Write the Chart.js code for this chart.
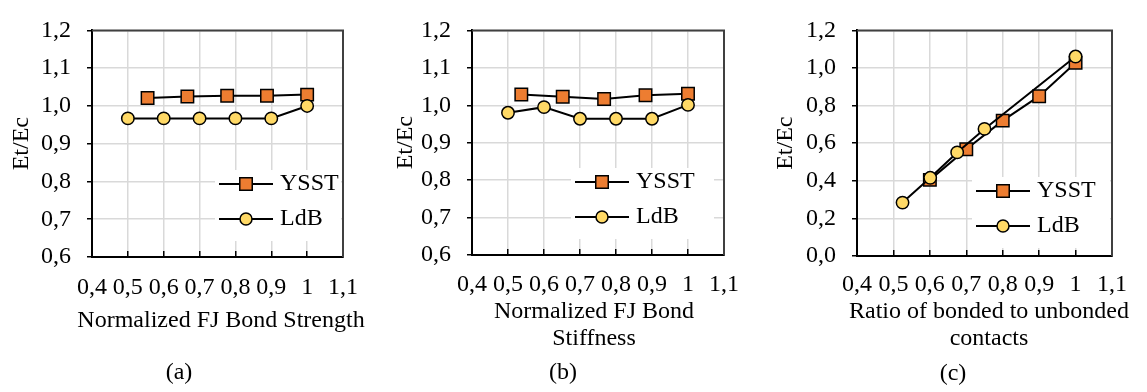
<!DOCTYPE html>
<html>
<head>
<meta charset="utf-8">
<script src="https://cdn.jsdelivr.net/npm/chart.js@4/dist/chart.umd.min.js"></script>
<style>
  html, body { margin: 0; padding: 0; background: #fff; }
  #figure { position: relative; width: 1147px; height: 392px; }
  #figure canvas { position: absolute; top: 0; }
</style>
</head>
<body>
<div id="figure">
  <canvas id="chartA" width="380" height="392" style="left:0px"></canvas>
  <canvas id="chartB" width="380" height="392" style="left:380px"></canvas>
  <canvas id="chartC" width="387" height="392" style="left:760px"></canvas>
</div>
<script>
// axis ticks (shared x axis, two kinds of y axis)
const xTickValues = [0.4, 0.5, 0.6, 0.7, 0.8, 0.9, 1.0, 1.1];
const xTickLabels = ['0,4', '0,5', '0,6', '0,7', '0,8', '0,9', '1', '1,1'];
const yTickValuesAB = [0.6, 0.7, 0.8, 0.9, 1.0, 1.1, 1.2];
const yTickLabelsAB = ['0,6', '0,7', '0,8', '0,9', '1,0', '1,1', '1,2'];
const yTickValuesC = [0, 0.2, 0.4, 0.6, 0.8, 1.0, 1.2];
const yTickLabelsC = ['0,0', '0,2', '0,4', '0,6', '0,8', '1,0', '1,2'];

// (a) normalized FJ bond strength
const strengthYsstX = [0.555, 0.666, 0.777, 0.888, 1.0];
const strengthYsstY = [1.021, 1.025, 1.027, 1.027, 1.030];
const strengthLdbX = [0.5, 0.6, 0.7, 0.8, 0.9, 1.0];
const strengthLdbY = [0.967, 0.967, 0.967, 0.967, 0.967, 1.0];

// (b) normalized FJ bond stiffness
const stiffnessYsstX = [0.537, 0.652, 0.767, 0.882, 1.0];
const stiffnessYsstY = [1.029, 1.023, 1.017, 1.027, 1.031];
const stiffnessLdbX = [0.5, 0.6, 0.7, 0.8, 0.9, 1.0];
const stiffnessLdbY = [0.980, 0.995, 0.964, 0.964, 0.964, 1.001];

// (c) ratio of bonded to unbonded contacts
const ratioYsstX = [0.6, 0.7, 0.8, 0.9, 1.0];
const ratioYsstY = [0.405, 0.568, 0.720, 0.850, 1.028];
const ratioLdbX = [0.525, 0.601, 0.675, 0.750, 1.0];
const ratioLdbY = [0.284, 0.416, 0.551, 0.676, 1.061];

const ORANGE = '#ED7D31';
const GOLD = '#FFD966';
const GRID = '#d9d9d9';
const FONT = '"Liberation Serif", "Times New Roman", serif';

Chart.defaults.font.family = FONT;
Chart.defaults.font.size = 24;
Chart.defaults.color = '#000';

// little line+marker picture used as the legend symbol (Excel style)
function legendSymbol(shape, fill) {
    const c = document.createElement('canvas');
    c.width = 54;
    c.height = 18;
    const g = c.getContext('2d');
    g.strokeStyle = '#000';
    g.lineWidth = 2;
    g.beginPath();
    g.moveTo(0, 9);
    g.lineTo(54, 9);
    g.stroke();
    g.fillStyle = fill;
    g.lineWidth = 1.5;
    g.beginPath();
    if (shape === 'rect') {
        g.rect(27 - 6.25, 9 - 6.25, 12.5, 12.5);
    } else {
        g.arc(27, 9, 6, 0, Math.PI * 2);
    }
    g.fill();
    g.stroke();
    return c;
}

const symbols = {
    rect: legendSymbol('rect', ORANGE),
    circle: legendSymbol('circle', GOLD)
};

function series(label, xs, ys, shape, fill, order) {
    return {
        label: label,
        order: order,
        data: xs.map((x, i) => ({ x: x, y: ys[i] })),
        borderColor: '#000',
        borderWidth: 2,
        pointStyle: shape,
        pointRadius: shape === 'rect' ? 8.8 : 6.2,
        pointBackgroundColor: fill,
        pointBorderColor: '#000',
        pointBorderWidth: 1.5
    };
}

// top and right edges of the plot area
const frame = {
    id: 'frame',
    beforeDatasetsDraw(chart) {
        const ctx = chart.ctx;
        const a = chart.chartArea;
        ctx.save();
        ctx.strokeStyle = '#404040';
        ctx.lineWidth = 2;
        ctx.beginPath();
        ctx.moveTo(a.left, a.top);
        ctx.lineTo(a.right, a.top);
        ctx.lineTo(a.right, a.bottom);
        ctx.stroke();
        ctx.restore();
    }
};

// put the legend inside the plot, lower right, on a white backing
const legendSpot = {
    id: 'legendSpot',
    afterLayout(chart, args, opts) {
        const lg = chart.legend;
        const a = chart.chartArea;
        lg.left = opts.left;
        lg.top = opts.top;
        lg.right = a.right;
        lg.bottom = a.bottom;
        lg.width = lg.right - lg.left;
        lg.height = lg.bottom - lg.top;
    },
    beforeDatasetsDraw(chart) {
        const ctx = chart.ctx;
        const lg = chart.legend;
        const a = chart.chartArea;
        const right = Math.min(lg.left + 145, a.right - 2);
        ctx.save();
        ctx.fillStyle = '#fff';
        ctx.fillRect(lg.left + 2, lg.top + 9, right - lg.left - 2, 71);
        ctx.restore();
        lg.draw();
    }
};

// x axis title lines and the panel caption
const bottomText = {
    id: 'bottomText',
    afterDraw(chart, args, opts) {
        const ctx = chart.ctx;
        ctx.save();
        ctx.font = '24px ' + FONT;
        ctx.fillStyle = '#000';
        ctx.textAlign = 'center';
        ctx.textBaseline = 'middle';
        opts.title.forEach((line, i) => {
            ctx.fillText(line, opts.titleX, opts.titleY + i * 27);
        });
        ctx.fillText(opts.caption, opts.captionX, opts.captionY);
        ctx.restore();
    }
};

function makeChart(id, p) {
    const canvas = document.getElementById(id);
    return new Chart(canvas, {
        type: 'line',
        data: {
            datasets: [
                series('YSST', p.ysstX, p.ysstY, 'rect', ORANGE, 2),
                series('LdB', p.ldbX, p.ldbY, 'circle', GOLD, 1)
            ]
        },
        options: {
            responsive: false,
            animation: false,
            devicePixelRatio: 1,
            layout: {
                padding: { left: 0, top: p.area.top, right: canvas.width - p.area.right, bottom: 0 }
            },
            scales: {
                x: {
                    type: 'linear',
                    min: xTickValues[0],
                    max: xTickValues[xTickValues.length - 1],
                    afterBuildTicks: s => { s.ticks = xTickValues.map(v => ({ value: v })); },
                    afterFit: s => { s.height = canvas.height - p.area.bottom; },
                    ticks: {
                        callback: (v, i) => xTickLabels[i],
                        padding: p.xPad,
                        maxRotation: 0,
                        autoSkip: false
                    },
                    grid: { color: GRID, lineWidth: 1.5, tickColor: '#000', tickLength: -6, tickWidth: 1.5 },
                    border: { color: '#000', width: 2 }
                },
                y: {
                    min: p.yTicks[0],
                    max: p.yTicks[p.yTicks.length - 1],
                    afterBuildTicks: s => { s.ticks = p.yTicks.map(v => ({ value: v })); },
                    afterFit: s => { s.width = p.area.left; },
                    ticks: {
                        callback: (v, i) => p.yLabels[i],
                        padding: 16
                    },
                    grid: { color: GRID, lineWidth: 1.5, tickColor: '#000', tickLength: 5, tickWidth: 1.5 },
                    border: { color: '#000', width: 2 },
                    title: {
                        display: true,
                        text: 'Et/Ec',
                        font: { size: 24 },
                        padding: { top: p.yTitlePad, bottom: 0 }
                    }
                }
            },
            plugins: {
                tooltip: { enabled: false },
                legend: {
                    position: 'chartArea',
                    align: 'start',
                    labels: {
                        usePointStyle: true,
                        pointStyleWidth: 44,
                        padding: 11,
                        color: '#000',
                        font: { size: 24 },
                        generateLabels: chart => chart.data.datasets.map((ds, i) => ({
                            text: ds.label,
                            datasetIndex: i,
                            pointStyle: symbols[ds.pointStyle],
                            fillStyle: ds.pointBackgroundColor,
                            strokeStyle: '#000',
                            lineWidth: 0,
                            hidden: false,
                            fontColor: '#000'
                        }))
                    }
                },
                legendSpot: { left: p.legendLeft, top: p.legendTop },
                bottomText: p.text
            }
        },
        plugins: [frame, legendSpot, bottomText]
    });
}

makeChart('chartA', {
    ysstX: strengthYsstX, ysstY: strengthYsstY,
    ldbX: strengthLdbX, ldbY: strengthLdbY,
    yTicks: yTickValuesAB, yLabels: yTickLabelsAB,
    area: { left: 92, top: 18, right: 358, bottom: 257 },
    xPad: 22, yTitlePad: 7,
    legendLeft: 213, legendTop: 161,
    text: { title: ['Normalized FJ Bond Strength'], titleX: 221, titleY: 321, caption: '(a)', captionX: 179, captionY: 373 }
});

makeChart('chartB', {
    ysstX: stiffnessYsstX, ysstY: stiffnessYsstY,
    ldbX: stiffnessLdbX, ldbY: stiffnessLdbY,
    yTicks: yTickValuesAB, yLabels: yTickLabelsAB,
    area: { left: 92, top: 14, right: 357, bottom: 255 },
    xPad: 21, yTitlePad: 11,
    legendLeft: 189, legendTop: 159,
    text: { title: ['Normalized FJ Bond', 'Stiffness'], titleX: 214, titleY: 312, caption: '(b)', captionX: 183, captionY: 373 }
});

makeChart('chartC', {
    ysstX: ratioYsstX, ysstY: ratioYsstY,
    ldbX: ratioLdbX, ldbY: ratioLdbY,
    yTicks: yTickValuesC, yLabels: yTickLabelsC,
    area: { left: 97, top: 19, right: 367, bottom: 256 },
    xPad: 20, yTitlePad: 11,
    legendLeft: 210, legendTop: 168,
    text: { title: ['Ratio of bonded to unbonded', 'contacts'], titleX: 229, titleY: 312, caption: '(c)', captionX: 193, captionY: 374 }
});
</script>
</body>
</html>
